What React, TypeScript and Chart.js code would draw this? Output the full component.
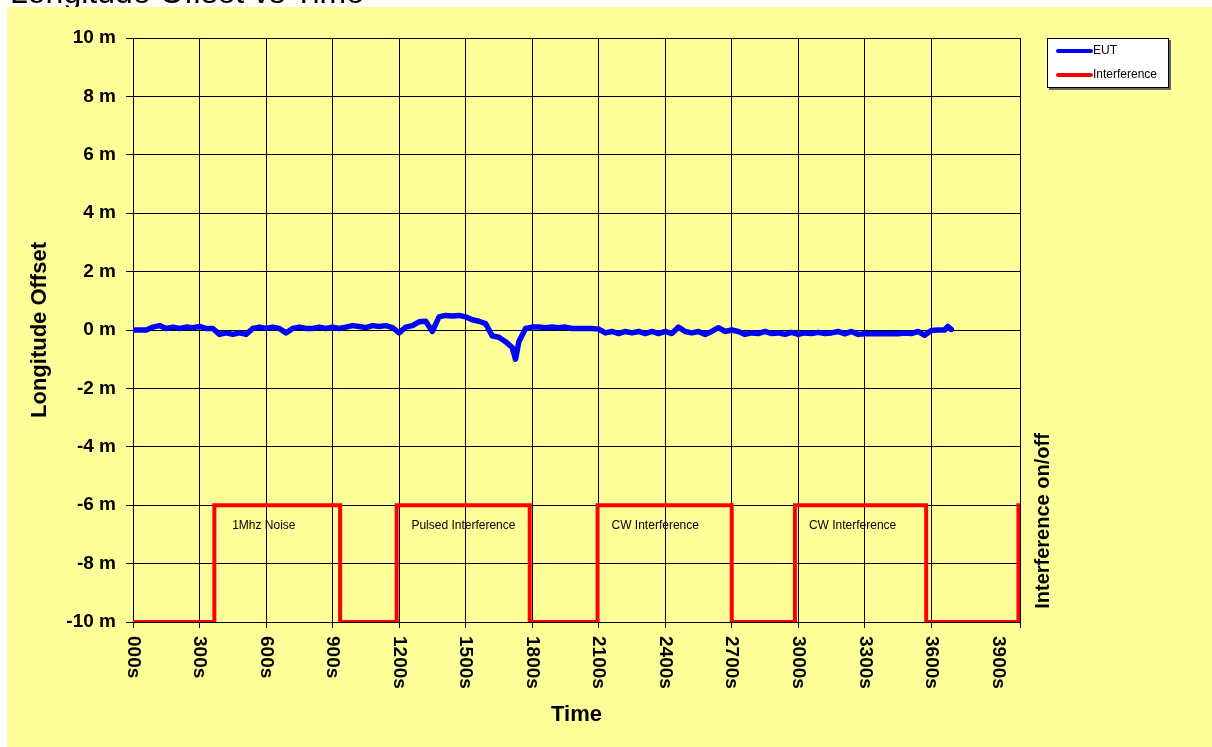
import React, { useEffect, useRef } from "react";
import { Chart, registerables } from "chart.js";

Chart.register(...registerables);

const FONT = '"Liberation Sans", Arial, sans-serif';

const chartTitle = "Longitude Offset vs Time";
const yAxisTitle = "Longitude Offset";
const xAxisTitle = "Time";
const y2AxisTitle = "Interference on/off";

const xTickValues = [0, 300, 600, 900, 1200, 1500, 1800, 2100, 2400, 2700, 3000, 3300, 3600, 3900];
const xTickLabels = ["000s", "300s", "600s", "900s", "1200s", "1500s", "1800s", "2100s", "2400s", "2700s", "3000s", "3300s", "3600s", "3900s"];

// EUT longitude offset (m) over time (s)
const eutTime = [
  0, 30, 60, 90, 120, 150, 180, 210, 240, 270,
  300, 330, 360, 390, 420, 450, 480, 510, 540, 570,
  600, 630, 660, 690, 720, 750, 780, 810, 840, 870,
  900, 930, 960, 990, 1020, 1050, 1080, 1110, 1140, 1170,
  1200, 1230, 1260, 1290, 1320, 1350, 1380, 1410, 1440, 1470,
  1500, 1530, 1560, 1590, 1620, 1650, 1680, 1710, 1725, 1740,
  1770, 1800, 1830, 1860, 1890, 1920, 1950, 1980, 2010, 2040,
  2070, 2100, 2130, 2160, 2190, 2220, 2250, 2280, 2310, 2340,
  2370, 2400, 2430, 2460, 2490, 2520, 2550, 2580, 2610, 2640,
  2670, 2700, 2730, 2760, 2790, 2820, 2850, 2880, 2910, 2940,
  2970, 3000, 3030, 3060, 3090, 3120, 3150, 3180, 3210, 3240,
  3270, 3300, 3330, 3360, 3390, 3420, 3450, 3480, 3510, 3540,
  3570, 3600, 3630, 3660, 3675, 3690,
];
const eutOffset = [
  0, 0, 0, 0.1, 0.15, 0.05, 0.1, 0.05, 0.1, 0.08,
  0.12, 0.05, 0.05, -0.15, -0.1, -0.15, -0.1, -0.15, 0.05, 0.1,
  0.05, 0.1, 0.05, -0.1, 0.05, 0.1, 0.05, 0.05, 0.1, 0.05,
  0.1, 0.05, 0.1, 0.15, 0.12, 0.08, 0.15, 0.12, 0.15, 0.08,
  -0.1, 0.1, 0.15, 0.28, 0.3, -0.05, 0.45, 0.5, 0.48, 0.5,
  0.45, 0.35, 0.3, 0.22, -0.2, -0.25, -0.4, -0.6, -1.0, -0.4,
  0.05, 0.1, 0.1, 0.08, 0.1, 0.08, 0.1, 0.05, 0.05, 0.05,
  0.05, 0.03, -0.1, -0.05, -0.12, -0.05, -0.1, -0.05, -0.12, -0.05,
  -0.12, -0.05, -0.12, 0.1, -0.05, -0.1, -0.05, -0.15, -0.05, 0.08,
  -0.05, 0, -0.05, -0.15, -0.1, -0.12, -0.05, -0.12, -0.1, -0.15,
  -0.08, -0.15, -0.1, -0.12, -0.08, -0.12, -0.1, -0.05, -0.13, -0.05,
  -0.15, -0.13, -0.13, -0.12, -0.13, -0.12, -0.13, -0.1, -0.12, -0.05,
  -0.18, -0.02, 0, 0, 0.12, 0.02,
];

// Interference on/off switching times (s) and state (0 = off, 1 = on)
const interfTime = [0, 367, 934, 1189, 1789, 2095, 2700, 2985, 3577, 3993, 4000];
const interfState = [0, 1, 0, 1, 0, 1, 0, 1, 0, 1, 1];

// Annotation labels over the "on" periods
const noteText = ["1Mhz Noise", "Pulsed Interference", "CW Interference", "CW Interference"];
const noteTime = [590, 1490, 2355, 3245];
const noteLevel = -6.7;

const seriesNames = ["EUT", "Interference"];
const seriesColors = ["#0000FF", "#FF0000"];

const overlayPlugin = {
  id: "overlay",
  afterDraw(chart: any) {
    const { ctx, chartArea } = chart;
    const x = chart.scales.x;
    const y = chart.scales.y;
    ctx.save();
    ctx.fillStyle = "#000";

    // x tick labels, rotated clockwise
    ctx.font = `bold 19px ${FONT}`;
    xTickValues.forEach((v, i) => {
      const px = x.getPixelForValue(v);
      ctx.save();
      ctx.translate(px, chartArea.bottom + 14);
      ctx.rotate(Math.PI / 2);
      ctx.textAlign = "left";
      ctx.textBaseline = "middle";
      ctx.fillText(xTickLabels[i], 0, 0);
      ctx.restore();
    });

    // y axis title
    ctx.font = `bold 22px ${FONT}`;
    ctx.save();
    ctx.translate(33, (chartArea.top + chartArea.bottom) / 2);
    ctx.rotate(-Math.PI / 2);
    ctx.textAlign = "center";
    ctx.textBaseline = "middle";
    ctx.fillText(yAxisTitle, 0, 0);
    ctx.restore();

    // x axis title
    ctx.textAlign = "center";
    ctx.textBaseline = "middle";
    ctx.fillText(xAxisTitle, (chartArea.left + chartArea.right) / 2, chartArea.bottom + 93);

    // secondary axis title
    ctx.font = `bold 20px ${FONT}`;
    ctx.save();
    ctx.translate(chartArea.right + 23, chartArea.bottom - 101);
    ctx.rotate(-Math.PI / 2);
    ctx.textAlign = "center";
    ctx.textBaseline = "middle";
    ctx.fillText(y2AxisTitle, 0, 0);
    ctx.restore();

    // annotations
    ctx.font = `12px ${FONT}`;
    ctx.textAlign = "center";
    ctx.textBaseline = "middle";
    noteText.forEach((t, i) => {
      ctx.fillText(t, x.getPixelForValue(noteTime[i]), y.getPixelForValue(noteLevel));
    });

    // legend
    const lx = chartArea.right + 27;
    const ly = chartArea.top;
    const lw = 122;
    const lh = 50;
    ctx.fillStyle = "#666";
    ctx.fillRect(lx + 2, ly + 2, lw, lh);
    ctx.fillStyle = "#fff";
    ctx.fillRect(lx, ly, lw, lh);
    ctx.strokeStyle = "#000";
    ctx.lineWidth = 1;
    ctx.strokeRect(lx + 0.5, ly + 0.5, lw - 1, lh - 1);
    ctx.font = `12px ${FONT}`;
    ctx.textAlign = "left";
    ctx.textBaseline = "middle";
    seriesNames.forEach((name, i) => {
      const yy = ly + 13 + i * 24;
      ctx.strokeStyle = seriesColors[i];
      ctx.lineWidth = 4;
      ctx.lineCap = "round";
      ctx.beginPath();
      ctx.moveTo(lx + 11, yy);
      ctx.lineTo(lx + 44, yy);
      ctx.stroke();
      ctx.fillStyle = "#000";
      ctx.fillText(name, lx + 46, yy);
    });

    ctx.restore();
  },
};

export default function App() {
  const canvasRef = useRef<HTMLCanvasElement | null>(null);
  const titleRef = useRef<HTMLCanvasElement | null>(null);

  useEffect(() => {
    const tc = titleRef.current;
    if (tc) {
      const tctx = tc.getContext("2d");
      if (tctx) {
        tctx.clearRect(0, 0, tc.width, tc.height);
        tctx.font = `32px ${FONT}`;
        tctx.fillStyle = "#000";
        tctx.textAlign = "left";
        tctx.textBaseline = "alphabetic";
        tctx.fillText(chartTitle, 10, 3);
      }
    }

    const canvas = canvasRef.current;
    if (!canvas) return;
    const chart = new Chart(canvas, {
      type: "line",
      data: {
        datasets: [
          {
            label: seriesNames[0],
            data: eutTime.map((t, i) => ({ x: t, y: eutOffset[i] })),
            borderColor: seriesColors[0],
            borderWidth: 5.5,
            pointRadius: 0,
            borderJoinStyle: "round",
            borderCapStyle: "round",
            tension: 0,
            yAxisID: "y",
          },
          {
            label: seriesNames[1],
            data: interfTime.map((t, i) => ({ x: t, y: interfState[i] })),
            borderColor: seriesColors[1],
            borderWidth: 4,
            pointRadius: 0,
            stepped: "before",
            borderJoinStyle: "miter",
            yAxisID: "y2",
          },
        ],
      },
      options: {
        animation: false,
        responsive: false,
        devicePixelRatio: 1,
        layout: { padding: { left: 0, top: 31, right: 192, bottom: 0 } },
        plugins: {
          legend: { display: false },
          tooltip: { enabled: false },
          title: { display: false },
        },
        scales: {
          x: {
            type: "linear",
            min: 0,
            max: 4000,
            ticks: { stepSize: 300, display: false },
            grid: { color: "#000", lineWidth: 1, tickLength: 6, drawTicks: true },
            border: { color: "#000" },
            afterFit: (s: any) => {
              s.height = 125;
            },
          },
          y: {
            min: -10,
            max: 10,
            ticks: {
              stepSize: 2,
              callback: (v: any) => `${v} m`,
              font: { family: FONT, size: 19, weight: "bold" },
              color: "#000",
              padding: 10,
            },
            grid: { color: "#000", lineWidth: 1, tickLength: 7 },
            border: { color: "#000" },
            afterFit: (s: any) => {
              s.width = 126;
            },
          },
          y2: { display: false, min: 0, max: 5 },
        },
      },
      plugins: [overlayPlugin],
    });
    return () => chart.destroy();
  }, []);

  return (
    <div style={{ position: "fixed", left: 0, top: 0, width: 1212, height: 747, background: "#fff", overflow: "hidden" }}>
      <canvas
        ref={titleRef}
        width={420}
        height={7}
        aria-label={chartTitle}
        style={{ position: "absolute", left: 0, top: 0, display: "block" }}
      />
      <div style={{ position: "absolute", left: 7, top: 7, width: 1205, height: 740, background: "#FFFF99" }}>
        <canvas ref={canvasRef} width={1205} height={740} style={{ display: "block" }} />
      </div>
    </div>
  );
}
